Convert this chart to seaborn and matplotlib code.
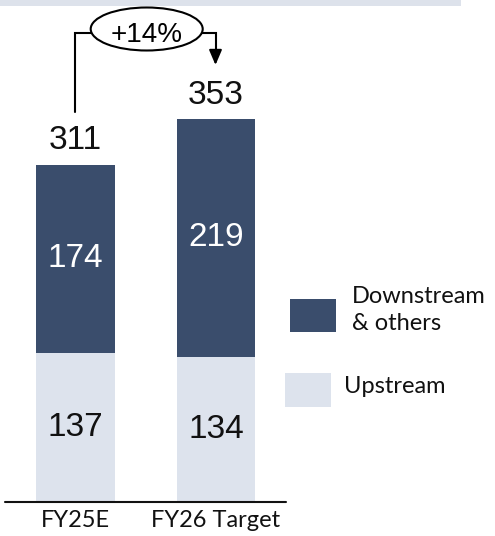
import matplotlib
matplotlib.use("Agg")
import matplotlib.pyplot as plt
import seaborn as sns
import pandas as pd
from matplotlib.patches import Rectangle, Ellipse
from matplotlib.transforms import Affine2D

categories = ["FY25E", "FY26 Target"]
upstream = [137, 134]
downstream = [174, 219]
totals = [311, 353]
growth_label = "+14%"
legend_labels = ["Downstream\n& others", "Upstream"]

dark = "#3a4d6c"
light = "#dde3ed"

sns.set_theme(style="white")
plt.rcParams["font.family"] = ["Liberation Sans", "DejaVu Sans"]

W, H = 495, 536
fig = plt.figure(figsize=(W / 100, H / 100), dpi=100)
BASE = 502.0
PXU = 1.085
STEP = 140.5
C0 = 75.5
ax = fig.add_axes([0, (H - BASE) / H, 1, BASE / H])

df = pd.DataFrame({"cat": categories, "total": totals, "up": upstream, "down": downstream})
sns.barplot(data=df, x="cat", y="total", color=dark, width=0.562, saturation=1,
            errorbar=None, linewidth=0, ax=ax)
sns.barplot(data=df, x="cat", y="up", color=light, width=0.562, saturation=1,
            errorbar=None, linewidth=0, ax=ax)

ax.set_ylim(0, BASE / PXU)
ax.set_xlim((0 - C0) / STEP, (W - C0) / STEP)
for s in ax.spines.values():
    s.set_visible(False)
ax.set_yticks([])
ax.set_xlabel("")
ax.set_ylabel("")
ax.tick_params(axis="x", length=0, pad=6)
for lab in ax.get_xticklabels():
    lab.set_fontfamily(["Lato", "DejaVu Sans"])
    lab.set_fontsize(17)
    lab.set_color("#111111")

ax.plot([-0.502, 1.498], [0, 0], color="#111111", lw=1.5, clip_on=False)

for i in range(len(categories)):
    ax.text(i, upstream[i] / 2, str(upstream[i]), ha="center", va="center",
            fontsize=24, color="#111111")
    ax.text(i, upstream[i] + downstream[i] / 2, str(downstream[i]), ha="center",
            va="center", fontsize=24, color="white")
    ax.text(i, totals[i] + 14, str(totals[i]), ha="center", va="baseline",
            fontsize=24, color="#111111")

def d(px, py):
    return ((px - C0) / STEP, (BASE - py) / PXU)

# growth annotation
x0, y_start = d(75, 112)
_, y_line = d(75, 33)
xl, _ = d(91, 33)
xr, _ = d(202, 33)
x1, _ = d(215.5, 33)
_, y_tip = d(215.5, 65)
ax.plot([x0, x0, xl], [y_start, y_line, y_line], color="black", lw=1.5,
        clip_on=False, solid_joinstyle="miter")
ax.plot([xr, x1, x1], [y_line, y_line, d(0, 52)[1]], color="black", lw=1.5,
        clip_on=False, solid_joinstyle="miter")
ax.annotate("", xy=(x1, y_tip), xytext=(x1, d(0, 50)[1]),
            arrowprops=dict(arrowstyle="-|>,head_length=0.75,head_width=0.32",
                            color="black", lw=1.5, shrinkA=0, shrinkB=0),
            annotation_clip=False)
ecx, ecy = d(146.7, 29)
ell = Ellipse((ecx, ecy), 112 / STEP, 43 / PXU, facecolor="white",
              edgecolor="black", lw=1.5, clip_on=False)
ax.add_patch(ell)
ax.text(ecx, d(0, 41.5)[1], growth_label, ha="center", va="baseline", fontsize=20,
        color="black")

# pixel transform for legend / header band
pt = Affine2D().scale(1 / W, -1 / H).translate(0, 1) + fig.transFigure
fig.patches.append(Rectangle((0, 0), 461, 6, transform=pt, facecolor="#dde2eb",
                             edgecolor="none"))
fig.patches.append(Rectangle((290, 299), 46, 33, transform=pt, facecolor=dark,
                             edgecolor="none"))
fig.patches.append(Rectangle((285, 373), 46, 34, transform=pt, facecolor=light,
                             edgecolor="none"))
lines = legend_labels[0].split("\n")
fig.text(352 / W, 1 - 303 / H, lines[0], fontsize=17, va="baseline",
         family=["Lato", "DejaVu Sans"], color="#111111")
fig.text(352 / W, 1 - 330 / H, lines[1], fontsize=17, va="baseline",
         family=["Lato", "DejaVu Sans"], color="#111111")
fig.text(344 / W, 1 - 393 / H, legend_labels[1], fontsize=17, va="baseline",
         family=["Lato", "DejaVu Sans"], color="#111111")

fig.savefig("out.png", dpi=100)
